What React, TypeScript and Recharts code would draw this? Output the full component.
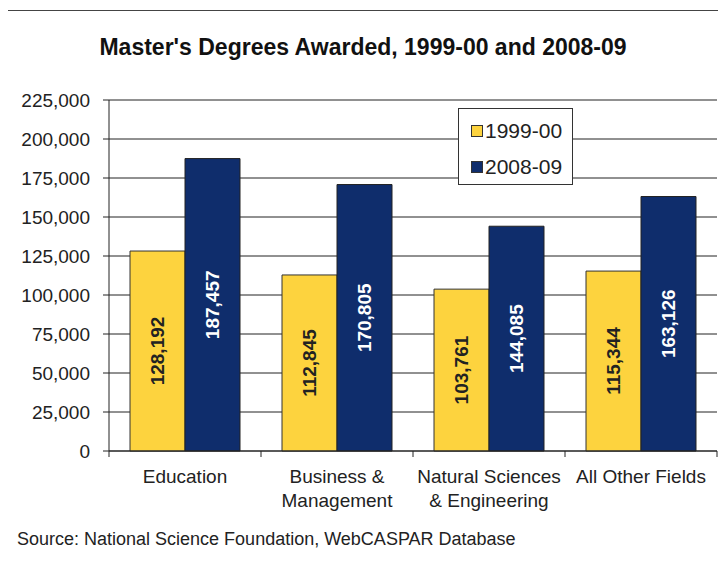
import React from 'react';
import { BarChart, Bar, XAxis, YAxis, CartesianGrid, LabelList } from 'recharts';

const categories = ['Education', 'Business &\nManagement', 'Natural Sciences\n& Engineering', 'All Other Fields'];
const degrees1999 = [128192, 112845, 103761, 115344];
const degrees2008 = [187457, 170805, 144085, 163126];
const yTicks = [0, 25000, 50000, 75000, 100000, 125000, 150000, 175000, 200000, 225000];

const YELLOW = '#FDD33E';
const NAVY = '#0F2D6C';
const FONT = '"Liberation Sans", Arial, sans-serif';

const data = categories.map((name, i) => ({
  name,
  y1999: degrees1999[i],
  y2008: degrees2008[i],
}));

const fmt = (v: any) => Number(v).toLocaleString('en-US');

// category label centred, tick mark on the category boundaries
function CategoryTick(props: any) {
  const { x, y, payload, index, visibleTicksCount } = props;
  const half = 152 / 2;
  const lines = String(payload.value).split('\n');
  return (
    <g>
      <line x1={x - half} y1={y - 8} x2={x - half} y2={y - 2} stroke="#222" />
      {index === visibleTicksCount - 1 && (
        <line x1={x + half} y1={y - 8} x2={x + half} y2={y - 2} stroke="#222" />
      )}
      <text x={x} y={y + 24} textAnchor="middle" fontSize={19} fill="#222" fontFamily={FONT}>
        {lines.map((l, i) => (
          <tspan key={i} x={x} dy={i === 0 ? 0 : 24}>{l}</tspan>
        ))}
      </text>
    </g>
  );
}

function LegendBox() {
  const items = [
    { label: '1999-00', color: YELLOW },
    { label: '2008-09', color: NAVY },
  ];
  return (
    <div style={{ width: 115, height: 77, border: '1.5px solid #333', background: '#fff', boxSizing: 'border-box', padding: '4px 0 0 12px' }}>
      {items.map((it) => (
        <div key={it.label} style={{ display: 'flex', alignItems: 'center', height: 36, fontSize: 21, color: '#222', fontFamily: FONT }}>
          <span style={{ display: 'inline-block', width: 10, height: 10, background: it.color, border: '1px solid #333', marginRight: 2 }} />
          {it.label}
        </div>
      ))}
    </div>
  );
}

export default function App() {
  return (
    <div style={{ position: 'relative', width: 726, height: 574, margin: -8, overflow: 'hidden', background: '#fff', fontFamily: FONT }}>
      <div style={{ position: 'absolute', left: 5, top: 10, width: 800, height: 700, borderLeft: '1.5px solid #444', borderTop: '1.5px solid #444' }} />
      <div style={{ position: 'absolute', left: 0, top: 34, width: 726, textAlign: 'center', fontSize: 23, fontWeight: 'bold', color: '#111' }}>
        Master's Degrees Awarded, 1999-00 and 2008-09
      </div>
      <div style={{ position: 'absolute', left: 17, top: 529, fontSize: 18, color: '#222' }}>
        Source: National Science Foundation, WebCASPAR Database
      </div>
      <div style={{ position: 'absolute', left: 0, top: 0 }}>
        <BarChart width={726} height={574} data={data} margin={{ top: 100, right: 9, bottom: 63, left: 9 }} barCategoryGap={21} barGap={0}>
          <CartesianGrid vertical={false} stroke="#222" yAxisId="left" />
          <XAxis dataKey="name" height={60} tickLine={false} axisLine={{ stroke: '#222' }} tick={<CategoryTick />} interval={0} />
          <YAxis
            yAxisId="left"
            width={100}
            domain={[0, 225000]}
            ticks={yTicks}
            tickFormatter={fmt}
            tickSize={6}
            tickMargin={13}
            axisLine={{ stroke: '#222' }}
            tickLine={{ stroke: '#222' }}
            tick={{ fontSize: 19, fill: '#222', fontFamily: FONT }}
          />
          <YAxis yAxisId="right" orientation="right" width={0} domain={[0, 225000]} tick={false} tickLine={false} axisLine={{ stroke: '#222' }} />
          <Bar yAxisId="left" dataKey="y1999" name="1999-00" fill={YELLOW} stroke="#333" strokeWidth={1} isAnimationActive={false}>
            <LabelList dataKey="y1999" position="center" angle={-90} formatter={fmt} fill="#222" fontSize={19} fontWeight="bold" fontFamily={FONT} />
          </Bar>
          <Bar yAxisId="left" dataKey="y2008" name="2008-09" fill={NAVY} stroke="#222" strokeWidth={1} isAnimationActive={false}>
            <LabelList dataKey="y2008" position="center" angle={-90} formatter={fmt} fill="#fff" fontSize={19} fontWeight="bold" fontFamily={FONT} />
          </Bar>
        </BarChart>
      </div>
      <div style={{ position: 'absolute', left: 458, top: 108 }}>
        <LegendBox />
      </div>
    </div>
  );
}
